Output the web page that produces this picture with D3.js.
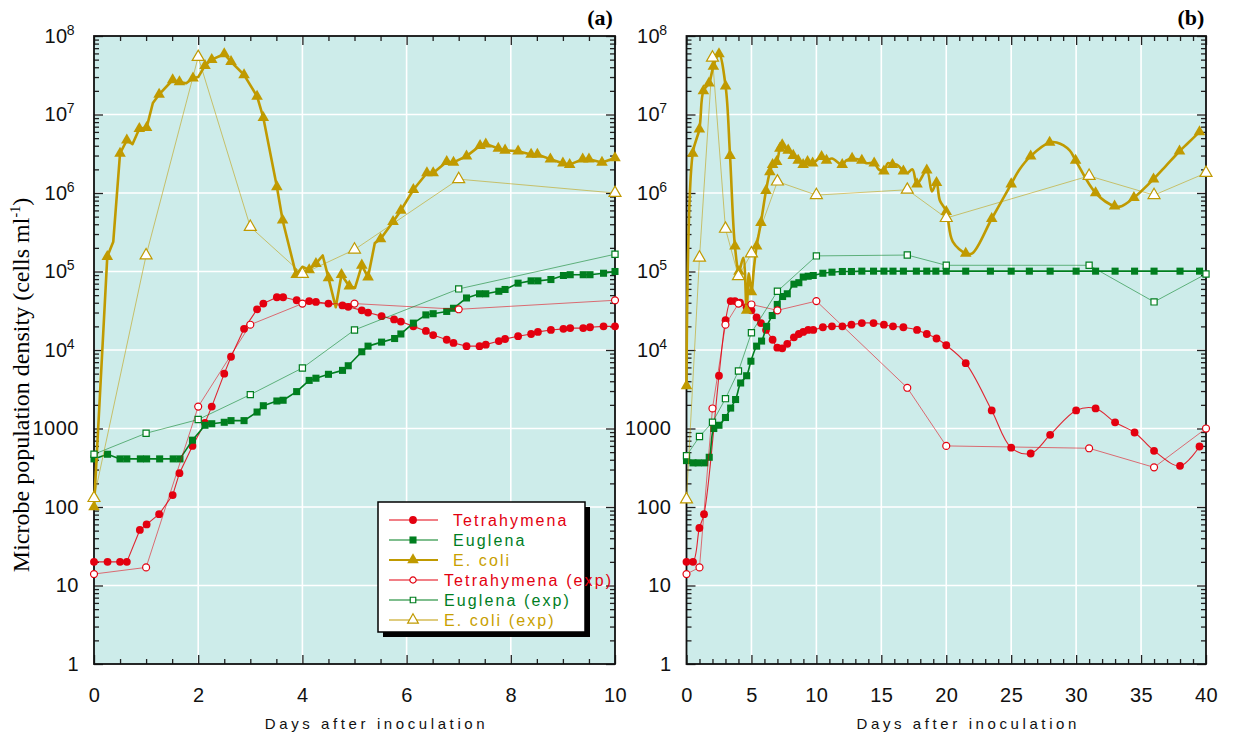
<!DOCTYPE html>
<html><head><meta charset="utf-8">
<script src="https://cdn.jsdelivr.net/npm/d3@7/dist/d3.min.js"></script>
<style>body{margin:0;background:#fff}svg{display:block}</style>
</head><body>
<svg id="chart" width="1233" height="747"></svg>
<script>
// ---------------- DATA ----------------
const panelLabels = ["(a)", "(b)"];
const xTicksA = [0, 2, 4, 6, 8, 10];
const xTicksB = [0, 5, 10, 15, 20, 25, 30, 35, 40];
const yTickValues = [1, 10, 100, 1000, 1e4, 1e5, 1e6, 1e7, 1e8];
const xTitle = "Days after inoculation";
const yTitleMain = "Microbe population density (cells  ml";
const yTitleSup = "-1";
const seriesNames = ["Tetrahymena", "Euglena", "E. coli", "Tetrahymena (exp)", "Euglena (exp)", "E. coli (exp)"];

// Panel (a) - model: [day, cells/ml]
const tetraA = [[0,20],[0.26,20],[0.5,20],[0.63,20],[0.88,51],[1.01,60],[1.25,81],[1.51,142],[1.64,270],[1.89,600],[2.13,1180],[2.26,1900],[2.5,5000],[2.63,8200],[2.88,18600],[3.13,33000],[3.25,39000],[3.51,47000],[3.63,47000],[3.89,43000],[4.13,42000],[4.26,41000],[4.5,39000],[4.77,37000],[4.88,35500],[5.14,32000],[5.26,30000],[5.52,27000],[5.76,24500],[5.89,23000],[6.13,20000],[6.37,17500],[6.51,15500],[6.77,13500],[6.9,12300],[7.15,11200],[7.4,11200],[7.52,11700],[7.77,13000],[7.89,13800],[8.14,15000],[8.39,16000],[8.52,17000],[8.77,18000],[9.01,18600],[9.14,19000],[9.39,19000],[9.52,19500],[9.78,20000],[10,20000]];
const euglenaA = [[0,410],[0.26,470],[0.5,410],[0.63,410],[0.89,410],[1.01,410],[1.26,410],[1.52,410],[1.65,410],[1.89,710],[2.13,1100],[2.26,1150],[2.5,1200],[2.63,1260],[2.88,1260],[3.13,1620],[3.25,1950],[3.51,2240],[3.63,2290],[3.89,2950],[4.13,4100],[4.26,4370],[4.5,4900],[4.77,5500],[4.88,6300],[5.14,9500],[5.26,11200],[5.52,12600],[5.77,14000],[5.89,16000],[6.13,22000],[6.37,28000],[6.51,29000],[6.77,31000],[6.9,34000],[7.15,46000],[7.4,52000],[7.52,52000],[7.77,56000],[7.89,59000],[8.14,71000],[8.39,76000],[8.52,76000],[8.77,79000],[9.01,89000],[9.14,91000],[9.39,91000],[9.52,91000],[9.78,95000],[10,100000]];
// [day, cells/ml, marker shown (1) or plain vertex (0)]
const ecoliA = [[0,100,1],[0.255,155000,1],[0.37,240000,0],[0.5,3.2e6,1],[0.63,4.7e6,1],[0.74,4.2e6,0],[0.87,6.6e6,1],[1.01,6.8e6,1],[1.13,1.4e7,0],[1.25,1.8e7,1],[1.51,2.75e7,1],[1.64,2.6e7,1],[1.77,2.5e7,0],[1.9,2.9e7,1],[2.0,3.0e7,0],[2.13,4.2e7,1],[2.26,5.0e7,1],[2.5,5.9e7,1],[2.63,4.7e7,1],[2.88,3.2e7,1],[3.13,1.7e7,1],[3.25,9.1e6,1],[3.51,1.2e6,1],[3.62,4.5e5,1],[3.88,91000,1],[4.0,115000,0],[4.13,105000,1],[4.26,126000,1],[4.39,160000,0],[4.5,83000,1],[4.64,35000,0],[4.75,91000,1],[4.9,65000,1],[5.01,62000,0],[5.14,120000,1],[5.26,85000,1],[5.39,230000,0],[5.5,260000,1],[5.74,430000,1],[5.89,600000,1],[6.13,1.1e6,1],[6.39,1.8e6,1],[6.51,1.8e6,1],[6.77,2.5e6,1],[6.9,2.45e6,1],[7.15,2.95e6,1],[7.41,4.0e6,1],[7.52,4.2e6,1],[7.76,3.7e6,1],[7.89,3.5e6,1],[8.14,3.4e6,1],[8.39,3.1e6,1],[8.51,3.1e6,1],[8.76,2.7e6,1],[9.0,2.4e6,1],[9.13,2.3e6,1],[9.38,2.7e6,1],[9.5,2.7e6,1],[9.75,2.45e6,1],[10,2.8e6,1]];
// Panel (a) - experiment
const tetraExpA = [[0,14],[1,17],[2,1900],[3,21000],[4,39000],[5,39000],[7,33000],[10,43000]];
const euglenaExpA = [[0,470],[1,870],[2,1300],[3,2700],[4,5900],[5,18000],[7,60000],[10,166000]];
const ecoliExpA = [[0,130],[1,160000],[2,5.4e7],[3,370000],[4,93000],[5,190000],[7,1.5e6],[10,1.0e6]];

// Panel (b) - model
const tetraB = [[0,20],[0.5,20],[0.99,54],[1.35,81],[2.5,4700],[3.01,24000],[3.4,42000],[3.73,42000],[4.12,40000],[4.63,35000],[5.0,32000],[5.4,26000],[5.73,22000],[6.12,18000],[6.63,13500],[6.99,10700],[7.37,10500],[7.76,12000],[8.27,14500],[8.65,16000],[8.99,17000],[9.37,18000],[9.76,18000],[10.5,19500],[11.2,20000],[12,20000],[12.7,21000],[13.5,22000],[14.4,22000],[15.2,21000],[15.9,20000],[16.7,19500],[17.75,18000],[18.5,16000],[19.25,14000],[20,11500],[21.5,6800],[23.5,1700],[25,570],[26.5,480],[28,830],[30,1700],[31.5,1800],[33,1200],[34.5,890],[36,520],[38,335],[39.5,590]];
const euglenaB = [[0,390],[0.5,365],[0.9,365],[1.4,365],[1.75,430],[2.1,1000],[2.5,1100],[3.0,1380],[3.4,1820],[3.78,2340],[4.17,3800],[4.63,4700],[4.96,7200],[5.4,11200],[5.78,13000],[6.17,20000],[6.6,27500],[6.99,38000],[7.4,48000],[7.76,52000],[8.27,69000],[8.65,72000],[8.99,85000],[9.37,87000],[9.76,89000],[10.5,95000],[11.2,98000],[12,100000],[12.7,100000],[13.5,101000],[14.4,101000],[15.2,101000],[15.9,101000],[16.7,101000],[17.7,101000],[18.5,101000],[19.2,101000],[20,101000],[21.5,101000],[23.4,101000],[25,101000],[26.4,101000],[28,101000],[30,101000],[31.5,101000],[33,101000],[34.5,101000],[36,101000],[38,101000],[39.5,101000]];
const ecoliB = [[0,3500,1],[0.48,3.2e6,1],[0.99,6.5e6,1],[1.3,2.0e7,1],[1.73,2.5e7,1],[2.07,4.1e7,1],[2.5,5.9e7,1],[3.01,2.3e7,1],[3.35,3.0e6,1],[3.73,210000,1],[4.04,100000,1],[4.37,150000,0],[4.63,32000,1],[4.8,95000,0],[5.0,55000,1],[5.2,115000,0],[5.4,210000,1],[5.73,420000,1],[6.12,1.07e6,1],[6.42,1.86e6,1],[6.63,2.3e6,1],[6.94,2.5e6,1],[7.19,3.7e6,1],[7.37,4.1e6,1],[7.58,3.7e6,0],[7.83,3.5e6,1],[8.22,3.0e6,1],[8.6,2.6e6,1],[8.98,2.3e6,1],[9.32,2.5e6,1],[9.71,2.4e6,1],[10.02,2.6e6,0],[10.4,2.9e6,1],[10.78,2.6e6,1],[11.2,2.75e6,0],[11.99,2.3e6,1],[12.3,2.6e6,0],[12.75,2.75e6,1],[13.1,2.7e6,0],[13.5,2.6e6,1],[13.84,2.4e6,0],[14.45,2.4e6,1],[14.8,2.0e6,0],[15.2,1.9e6,1],[15.5,2.4e6,0],[15.86,2.3e6,1],[16.2,2.3e6,0],[16.7,1.9e6,1],[17.0,1.8e6,0],[17.4,2.0e6,0],[17.75,1.3e6,1],[18.5,1.95e6,1],[18.9,1.05e6,0],[19.25,1.35e6,1],[19.5,810000,0],[20.0,580000,1],[20.5,240000,0],[21.5,170000,1],[22.0,170000,0],[23.5,470000,1],[25.0,1.3e6,1],[25.6,1.95e6,0],[26.5,2.95e6,1],[27.96,4.4e6,1],[28.5,4.4e6,0],[29.5,3.5e6,0],[29.96,2.6e6,1],[31.5,1.0e6,1],[32.96,680000,1],[33.5,680000,0],[34.45,870000,1],[35.96,1.5e6,1],[36.9,2.2e6,0],[37.96,3.4e6,1],[38.6,4.3e6,0],[39.5,6.0e6,1]];
// Panel (b) - experiment
const tetraExpB = [[0,14],[1,17],[2,1800],[3,21000],[4,39000],[5,38000],[7,32000],[10,42000],[17,3300],[20,600],[31,560],[36,320],[40,1000]];
const euglenaExpB = [[0,450],[1,790],[2,1200],[3,2400],[4,5400],[5,16600],[7,56000],[10,158000],[17,162000],[20,120000],[31,120000],[36,41000],[40,93000]];
const ecoliExpB = [[0,125],[1,150000],[2,5.3e7],[3,350000],[4,87000],[5,170000],[7,1.4e6],[10,940000],[17,1.1e6],[20,480000],[31,1.65e6],[36,940000],[40,1.8e6]];

// ---------------- STYLE ----------------
const RED = "#e3000f", GREEN = "#007e1f", GOLD = "#c09a00";
const BG = "#cdecea";
const tickFont = "'Liberation Sans', Arial, sans-serif";

const svg = d3.select("#chart");
const TOP = 36, BOTTOM = 664;

const styles = {
  tetra:   {color: RED,   width: 1.1, symbol: d3.symbolCircle,   size: 48, fill: RED,  opacity: 0.85},
  euglena: {color: GREEN, width: 1.6, symbol: d3.symbolSquare,   size: 50, fill: GREEN, opacity: 1},
  ecoli:   {color: GOLD,  width: 2.6, symbol: d3.symbolTriangle, size: 58, fill: GOLD, opacity: 1},
  tetraE:  {color: RED,   width: 1,   symbol: d3.symbolCircle,   size: 38, fill: "#fff", opacity: 0.55, mstroke: 1.2},
  euglenaE:{color: GREEN, width: 1,   symbol: d3.symbolSquare,   size: 38, fill: "#fff", opacity: 0.55, mstroke: 1.2},
  ecoliE:  {color: GOLD,  width: 1,   symbol: d3.symbolTriangle, size: 62, fill: "#fff", opacity: 0.55, mstroke: 1.2}
};

function drawPanel(cfg) {
  const g = svg.append("g");
  const x = d3.scaleLinear().domain([0, cfg.xmax]).range([cfg.left, cfg.right]);
  const y = d3.scaleLog().domain([1, 1e8]).range([BOTTOM, TOP]);

  g.append("rect").attr("x", cfg.left).attr("y", TOP)
    .attr("width", cfg.right - cfg.left).attr("height", BOTTOM - TOP).attr("fill", BG);

  // grid
  const innerY = yTickValues.slice(1, -1);
  const innerX = cfg.xticks.slice(1, -1);
  g.selectAll(".gy").data(innerY).join("line")
    .attr("x1", cfg.left).attr("x2", cfg.right).attr("y1", d => y(d)).attr("y2", d => y(d))
    .attr("stroke", "#fff").attr("stroke-width", 1.6);
  g.selectAll(".gx").data(innerX).join("line")
    .attr("y1", TOP).attr("y2", BOTTOM).attr("x1", d => x(d)).attr("x2", d => x(d))
    .attr("stroke", "#fff").attr("stroke-width", 1.6);

  // minor ticks
  const minorY = [];
  for (let e = 0; e < 8; e++) for (let k = 2; k <= 9; k++) minorY.push(k * Math.pow(10, e));
  const minorX = d3.range(0, cfg.xmax + 1e-9, cfg.minorStep).filter(v => !cfg.xticks.includes(+v.toFixed(6)));

  const minorG = g.append("g").attr("class", "minor");
  minorG.append("g").attr("transform", `translate(${cfg.left},0)`)
    .call(d3.axisLeft(y).tickValues(minorY).tickSize(-5).tickFormat(""));
  minorG.append("g").attr("transform", `translate(${cfg.right},0)`)
    .call(d3.axisRight(y).tickValues(minorY).tickSize(-5).tickFormat(""));
  minorG.append("g").attr("transform", `translate(0,${BOTTOM})`)
    .call(d3.axisBottom(x).tickValues(minorX).tickSize(-5).tickFormat(""));
  minorG.append("g").attr("transform", `translate(0,${TOP})`)
    .call(d3.axisTop(x).tickValues(minorX).tickSize(-5).tickFormat(""));

  // major ticks (no labels) on right and top
  g.append("g").attr("transform", `translate(${cfg.right},0)`)
    .call(d3.axisRight(y).tickValues(yTickValues).tickSize(-9).tickFormat(""));
  g.append("g").attr("transform", `translate(0,${TOP})`)
    .call(d3.axisTop(x).tickValues(cfg.xticks).tickSize(-9).tickFormat(""));

  // major ticks with labels
  const yAx = g.append("g").attr("transform", `translate(${cfg.left},0)`)
    .call(d3.axisLeft(y).tickValues(yTickValues).tickSize(-9).tickPadding(15)
      .tickFormat(d => d >= 1e4 ? "10" : String(d)));
  yAx.selectAll(".tick text").each(function(d) {
    const t = d3.select(this);
    if (d >= 1e4) {
      t.attr("dx", -4);
      t.append("tspan").attr("dx", "-1").attr("dy", "-8").attr("font-size", 14)
        .text(Math.round(Math.log10(d)));
    }
  });
  const xAx = g.append("g").attr("transform", `translate(0,${BOTTOM})`)
    .call(d3.axisBottom(x).tickValues(cfg.xticks).tickSize(-9).tickPadding(24));

  [yAx, xAx].forEach(a => a.selectAll("text").attr("font-family", tickFont)
    .attr("font-size", 20).attr("fill", "#111").attr("letter-spacing", 0.5));
  g.selectAll(".domain").remove();
  g.selectAll(".tick line").attr("stroke", "#222").attr("stroke-width", 1.3);

  // frame
  g.append("rect").attr("x", cfg.left).attr("y", TOP)
    .attr("width", cfg.right - cfg.left).attr("height", BOTTOM - TOP)
    .attr("fill", "none").attr("stroke", "#111").attr("stroke-width", 1.8);

  // x title
  g.append("text").attr("x", (cfg.left + cfg.right) / 2 + 22).attr("y", 729)
    .attr("text-anchor", "middle").attr("font-family", tickFont).attr("font-size", 15)
    .attr("letter-spacing", 3.6).attr("fill", "#111").text(xTitle);

  // panel label
  g.append("text").attr("x", cfg.right - 15).attr("y", 25).attr("text-anchor", "middle")
    .attr("font-family", "'Liberation Serif', 'Times New Roman', serif").attr("font-weight", "bold")
    .attr("font-size", 22).attr("fill", "#000").text(cfg.label);

  const plot = g.append("g");
  const curve = cfg.smooth ? d3.curveCatmullRom.alpha(0.5) : d3.curveLinear;

  function series(data, st, curveType) {
    const line = d3.line().x(d => x(d[0])).y(d => y(d[1])).curve(curveType);
    plot.append("path").datum(data).attr("d", line).attr("fill", "none")
      .attr("stroke", st.color).attr("stroke-width", st.width).attr("stroke-opacity", st.opacity)
      .attr("stroke-linejoin", "round");
    const sym = d3.symbol().type(st.symbol).size(st.size);
    plot.selectAll(null).data(data.filter(d => d.length < 3 || d[2] === 1)).join("path")
      .attr("transform", d => `translate(${x(d[0])},${y(d[1])})`)
      .attr("d", sym).attr("fill", st.fill)
      .attr("stroke", st.mstroke ? st.color : "none").attr("stroke-width", st.mstroke || 0);
  }
  series(cfg.tetra, styles.tetra, curve);
  series(cfg.euglena, styles.euglena, curve);
  series(cfg.ecoli, styles.ecoli, curve);
  series(cfg.tetraE, styles.tetraE, d3.curveLinear);
  series(cfg.euglenaE, styles.euglenaE, d3.curveLinear);
  series(cfg.ecoliE, styles.ecoliE, d3.curveLinear);
  return {x, y};
}

drawPanel({left: 94, right: 615, xmax: 10, xticks: xTicksA, minorStep: 0.5, label: panelLabels[0], smooth: false,
  tetra: tetraA, euglena: euglenaA, ecoli: ecoliA, tetraE: tetraExpA, euglenaE: euglenaExpA, ecoliE: ecoliExpA});
drawPanel({left: 686.5, right: 1206, xmax: 40, xticks: xTicksB, minorStep: 1, label: panelLabels[1], smooth: true,
  tetra: tetraB, euglena: euglenaB, ecoli: ecoliB, tetraE: tetraExpB, euglenaE: euglenaExpB, ecoliE: ecoliExpB});

// y title
const yt = svg.append("text").attr("transform", "translate(29,385) rotate(-90)")
  .attr("text-anchor", "middle").attr("font-family", "'Liberation Serif', 'Times New Roman', serif")
  .attr("font-size", 24).attr("fill", "#000");
yt.append("tspan").text(yTitleMain);
yt.append("tspan").attr("font-size", 14).attr("dy", -9).text(yTitleSup);
yt.append("tspan").attr("dy", 9).text(")");

// legend
const lg = svg.append("g");
const LX = 378, LY = 502, LW = 207, LH = 130;
lg.append("rect").attr("x", LX + 5).attr("y", LY + 5).attr("width", LW).attr("height", LH).attr("fill", "#000");
lg.append("rect").attr("x", LX).attr("y", LY).attr("width", LW).attr("height", LH)
  .attr("fill", "#fff").attr("stroke", "#000").attr("stroke-width", 1.5);
const legStyles = [styles.tetra, styles.euglena, styles.ecoli, styles.tetraE, styles.euglenaE, styles.ecoliE];
const legY = d3.scalePoint().domain(seriesNames).range([LY + 18, LY + 118]);
seriesNames.forEach((name, i) => {
  const st = legStyles[i];
  const yy = legY(name);
  lg.append("line").attr("x1", LX + 11).attr("x2", LX + 60).attr("y1", yy).attr("y2", yy)
    .attr("stroke", st.color).attr("stroke-width", i === 2 ? 2.2 : 1.2);
  lg.append("path").attr("transform", `translate(${LX + 35},${yy})`)
    .attr("d", d3.symbol().type(st.symbol).size(i >= 3 ? st.size * 0.8 : st.size)())
    .attr("fill", st.fill).attr("stroke", st.mstroke ? st.color : "none").attr("stroke-width", st.mstroke || 0);
  lg.append("text").attr("x", i < 3 ? LX + 75 : LX + 66).attr("y", yy + 6)
    .attr("font-family", tickFont).attr("font-size", 16).attr("letter-spacing", 2.1)
    .attr("fill", st.color === GOLD ? "#c8a000" : st.color).text(name);
});
</script>
</body></html>
